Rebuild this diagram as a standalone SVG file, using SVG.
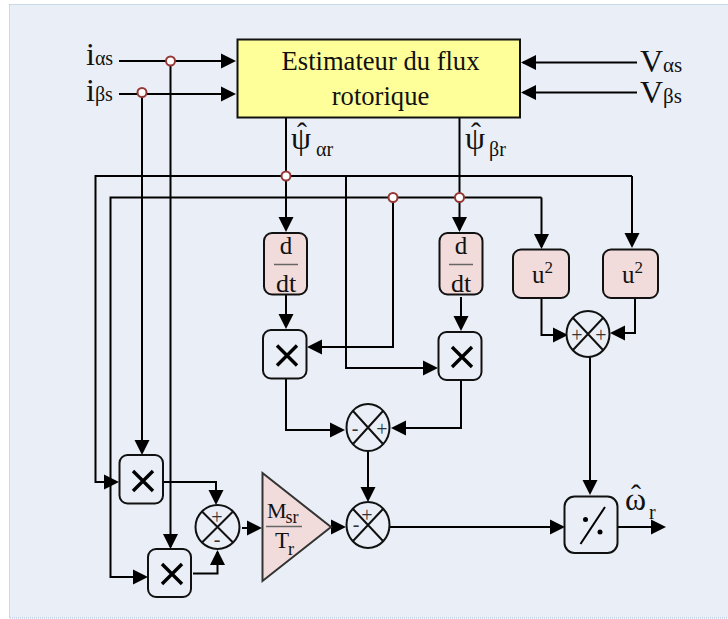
<svg xmlns="http://www.w3.org/2000/svg" width="728" height="619" viewBox="0 0 728 619">
<style>
text{font-family:"Liberation Serif","Times New Roman",serif;fill:#111}
.w{fill:none;stroke:#000;stroke-width:2}
.a{marker-end:url(#ah)}
.b{stroke:#111;stroke-width:2}
.pink{fill:#f2dcdb}
.plain{fill:#eaeff7}
.x{fill:none;stroke:#000;stroke-width:3.4}
.s{fill:none;stroke:#111;stroke-width:2}
.j{fill:#fff;stroke:#953735;stroke-width:2}
.sg{font-size:20px;fill:#333;text-anchor:middle}
.frac{stroke:#666;stroke-width:1.5}
.m{text-anchor:middle}
</style>
<defs>
<marker id="ah" markerUnits="userSpaceOnUse" markerWidth="16" markerHeight="16" refX="13" refY="8" orient="auto" viewBox="0 0 16 16">
<path d="M0 .5L15 8L0 15.500Z" fill="#000"/>
</marker>
</defs>
<rect x="9.500" y="4.500" width="730" height="613.500" fill="#eaeff7" stroke="#a3bcd9" stroke-width="1" stroke-dasharray="1 1"/>
<g id="connectors">
<path class="w a" d="M119 61H234"/>
<path class="w a" d="M119 94H234"/>
<path class="w a" d="M637 62.500H523"/>
<path class="w a" d="M637 92.500H523"/>
<path class="w a" d="M170.500 61V547"/>
<path class="w a" d="M142 92.500V453"/>
<path class="w a" d="M286 117V230"/>
<path class="w a" d="M459.500 117V230"/>
<path class="w a" d="M632 176H95.500V482H117"/>
<path class="w a" d="M541.500 197.500H110.500V577H146"/>
<path class="w a" d="M346 176V368H436"/>
<path class="w a" d="M393 197.500V347H309"/>
<path class="w a" d="M632 176V246"/>
<path class="w a" d="M541.500 197.500V247"/>
<path class="w a" d="M286 294V327"/>
<path class="w a" d="M461 297V329"/>
<path class="w a" d="M541.500 298V335H566"/>
<path class="w a" d="M635 298V333H612"/>
<path class="w a" d="M590 357V493"/>
<path class="w a" d="M286 378V430H343"/>
<path class="w a" d="M461 381V428H393"/>
<path class="w a" d="M368 451V500"/>
<path class="w a" d="M390 527H563"/>
<path class="w a" d="M618 527H664"/>
<path class="w a" d="M163 482H216V503"/>
<path class="w a" d="M193 573.500H217.500V552"/>
<path class="w a" d="M242 528H260"/>
<path class="w a" d="M331 527H344"/>
</g>
<g id="estimator">
<rect x="237.500" y="39.500" width="282.500" height="78" fill="#ffff99" class="b"/>
<text class="m" x="380.500" y="70" font-size="26.600">Estimateur du flux</text>
<text class="m" x="380.500" y="105" font-size="26.600">rotorique</text>
</g>
<g id="label-ias"><text x="86" y="65" font-size="32">i<tspan font-size="20">αs</tspan></text></g>
<g id="label-ibs"><text x="86" y="101" font-size="32">i<tspan font-size="20">βs</tspan></text></g>
<g id="label-vas"><text x="640" y="72" font-size="32">V<tspan font-size="21">αs</tspan></text></g>
<g id="label-vbs"><text x="640" y="103" font-size="32">V<tspan font-size="21">βs</tspan></text></g>
<g id="label-psia"><text x="291" y="149" font-size="32">ψ<tspan x="297" y="143" font-size="30">ˆ</tspan><tspan x="316" y="156" font-size="20">αr</tspan></text></g>
<g id="label-psib"><text x="465" y="149" font-size="32">ψ<tspan x="471" y="143" font-size="30">ˆ</tspan><tspan x="489" y="156" font-size="20">βr</tspan></text></g>
<g id="ddt1">
<rect x="264" y="233" width="43" height="61.500" rx="8" class="pink b"/>
<text class="m" x="286" y="254" font-size="25">d</text>
<path class="frac" d="M274 264.500H298"/>
<text class="m" x="286" y="292" font-size="26">dt</text>
</g>
<g id="ddt2">
<rect x="439.500" y="233" width="43" height="61.500" rx="8" class="pink b"/>
<text class="m" x="461" y="254" font-size="25">d</text>
<path class="frac" d="M449 264.500H473"/>
<text class="m" x="461" y="292" font-size="26">dt</text>
</g>
<g id="square1">
<rect x="513" y="249.500" width="56" height="48.500" rx="8" class="pink b"/>
<text x="532" y="283" font-size="25">u<tspan font-size="17" dy="-10">2</tspan></text>
</g>
<g id="square2">
<rect x="603" y="249.500" width="55" height="48.500" rx="8" class="pink b"/>
<text x="622" y="283" font-size="25">u<tspan font-size="17" dy="-10">2</tspan></text>
</g>
<g id="mult1">
<rect x="263" y="330" width="43.500" height="48.500" rx="8" class="plain b"/>
<path class="x" d="M277 345.500L297 365.500M297 345.500L277 365.500"/>
</g>
<g id="mult2">
<rect x="438.500" y="332" width="43" height="48" rx="8" class="plain b"/>
<path class="x" d="M452 347L472 367M472 347L452 367"/>
</g>
<g id="mult3">
<rect x="119.500" y="455" width="43.500" height="48.500" rx="8" class="plain b"/>
<path class="x" d="M133 471L153 491M153 471L133 491"/>
</g>
<g id="mult4">
<rect x="148" y="549" width="43" height="48" rx="8" class="plain b"/>
<path class="x" d="M162 564L182 584M182 564L162 584"/>
</g>
<g id="sum-top">
<ellipse cx="588" cy="334" rx="21.500" ry="23" class="plain b"/>
<path class="s" d="M573 318L603 350M603 318L573 350"/>
<text class="sg" x="577" y="342">+</text>
<text class="sg" x="601" y="342">+</text>
</g>
<g id="sum-mid">
<ellipse cx="368" cy="427.500" rx="21.500" ry="23.500" class="plain b"/>
<path class="s" d="M353 411L383 444M383 411L353 444"/>
<text class="sg" x="355" y="435">-</text>
<text class="sg" x="382" y="436">+</text>
</g>
<g id="sum-low">
<ellipse cx="368" cy="525" rx="21.500" ry="23" class="plain b"/>
<path class="s" d="M353 509L383 541M383 509L353 541"/>
<text class="sg" x="356" y="531">-</text>
<text class="sg" x="367" y="522">+</text>
</g>
<g id="sum-left">
<ellipse cx="217.500" cy="527" rx="22" ry="22" class="plain b"/>
<path class="s" d="M202 511.500L233 542.500M233 511.500L202 542.500"/>
<text class="sg" x="217" y="524">+</text>
<text class="sg" x="217" y="546">-</text>
</g>
<g id="gain">
<path d="M262.500 473L331 527L262.500 581Z" class="pink" stroke="#333" stroke-width="2"/>
<text x="267" y="518" font-size="22">M<tspan font-size="18" dy="5" dx="-1">sr</tspan></text>
<path class="frac" d="M266 526.500H302"/>
<text x="275" y="548" font-size="23">T<tspan font-size="18" dy="7" dx="-1">r</tspan></text>
</g>
<g id="divider">
<rect x="564.500" y="496.500" width="53" height="56.500" rx="10" class="plain b"/>
<path d="M580.500 544L605 507" fill="none" stroke="#000" stroke-width="2"/>
<circle cx="585.500" cy="519.500" r="2.500" fill="#000"/>
<circle cx="600" cy="532" r="2.500" fill="#000"/>
</g>
<g id="label-omega"><text x="625" y="510" font-size="32">ω<tspan x="631" y="505" font-size="30">ˆ</tspan><tspan x="649" y="519" font-size="20">r</tspan></text></g>
<g id="junctions">
<circle class="j" cx="170.500" cy="61" r="4.500"/>
<circle class="j" cx="142" cy="92.500" r="4.500"/>
<circle class="j" cx="286" cy="176" r="4.500"/>
<circle class="j" cx="393" cy="197.500" r="4.500"/>
<circle class="j" cx="459.500" cy="197.500" r="4.500"/>
</g>
</svg>
